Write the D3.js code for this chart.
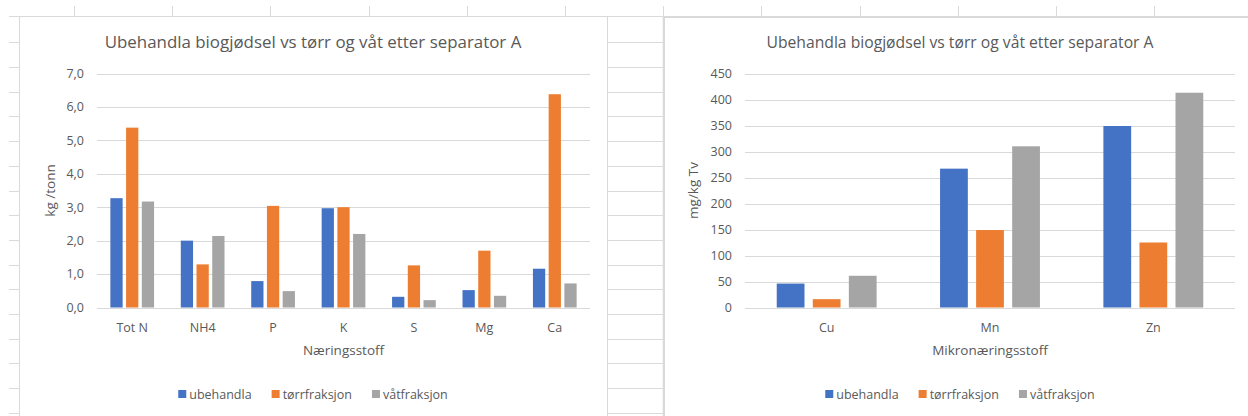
<!DOCTYPE html>
<html>
<head>
<meta charset="utf-8">
<script src="https://cdn.jsdelivr.net/npm/d3@7"></script>
<style>
  body { margin: 0; background: #fff; }
  svg { display: block; font-family: "Open Sans", sans-serif; }
</style>
</head>
<body>
<svg id="sheet" width="1248" height="416"></svg>
<script>
// data
var seriesNames = ["ubehandla", "tørrfraksjon", "våtfraksjon"];
var seriesColors = ["#4472C4", "#ED7D31", "#A5A5A5"];

var macroCats = ["Tot N", "NH4", "P", "K", "S", "Mg", "Ca"];
var macroUbehandla = [3.27, 2.0, 0.79, 2.97, 0.32, 0.52, 1.16];
var macroTorr = [5.38, 1.29, 3.04, 3.0, 1.26, 1.70, 6.38];
var macroVat = [3.17, 2.14, 0.49, 2.2, 0.22, 0.35, 0.72];
var macroTicks = [0, 1, 2, 3, 4, 5, 6, 7];

var microCats = ["Cu", "Mn", "Zn"];
var microUbehandla = [46, 267, 349];
var microTorr = [16, 149, 125];
var microVat = [61, 310, 413];
var microTicks = [0, 50, 100, 150, 200, 250, 300, 350, 400, 450];

var titleText = "Ubehandla biogjødsel vs tørr og våt etter separator A";

var svg = d3.select("#sheet");
var gridCol = "#dadada";

// spreadsheet background: header line, column ticks, row lines
svg.append("line").attr("x1", 9).attr("x2", 1248).attr("y1", 16.5).attr("y2", 16.5)
  .attr("stroke", gridCol);
d3.range(12).forEach(function(i){
  var x = Math.round(74 + 98.2 * i) + .5;
  svg.append("line").attr("x1", x).attr("x2", x).attr("y1", 6).attr("y2", 16)
    .attr("stroke", gridCol);
});
d3.range(16).forEach(function(i){
  var y = Math.round(42.3 + 24.7 * i) + .5;
  svg.append("line").attr("x1", 9).attr("x2", 19).attr("y1", y).attr("y2", y).attr("stroke", gridCol);
  svg.append("line").attr("x1", 607).attr("x2", 663).attr("y1", y).attr("y2", y).attr("stroke", gridCol);
});
svg.append("line").attr("x1", 663.5).attr("x2", 663.5).attr("y1", 16).attr("y2", 416)
  .attr("stroke", gridCol).attr("stroke-width", 1.5);

function drawChart(opt){
  var g = svg.append("g");
  // chart area
  g.append("rect")
    .attr("x", opt.box[0] + .5).attr("y", opt.box[1] + .5)
    .attr("width", opt.box[2] - opt.box[0]).attr("height", opt.box[3] - opt.box[1])
    .attr("fill", "#fff").attr("stroke", "#d9d9d9");
  var cx = (opt.box[0] + opt.box[2]) / 2;

  var x = d3.scaleBand().domain(opt.cats).range([opt.left, opt.right]);
  var xs = d3.scaleBand().domain(seriesNames).range([0, x.bandwidth()])
    .paddingInner(opt.padIn).paddingOuter(opt.padOut);
  var y = d3.scaleLinear().domain([0, opt.max]).range([307.5, 73.5]);

  // gridlines
  g.append("g").selectAll("line").data(opt.ticks).enter().append("line")
    .attr("x1", opt.left).attr("x2", opt.right)
    .attr("y1", function(d){ return Math.round(y(d)) + .5; })
    .attr("y2", function(d){ return Math.round(y(d)) + .5; })
    .attr("stroke", "#d9d9d9").attr("stroke-width", 1.2);

  // y tick labels
  g.append("g").selectAll("text").data(opt.ticks).enter().append("text")
    .attr("x", opt.left - 13).attr("y", function(d){ return y(d); })
    .attr("dy", ".35em").attr("text-anchor", "end")
    .attr("font-size", 12.5).attr("fill", "#595959")
    .text(opt.fmt);

  // bars
  var rows = opt.cats.map(function(c, i){
    return opt.values.map(function(v, s){ return {cat: c, s: seriesNames[s], v: v[i], color: seriesColors[s]}; });
  });
  g.append("g").selectAll("g").data(rows).enter().append("g")
    .attr("transform", function(d){ return "translate(" + x(d[0].cat) + ",0)"; })
    .selectAll("rect").data(function(d){ return d; }).enter().append("rect")
      .attr("x", function(d){ return xs(d.s); })
      .attr("width", xs.bandwidth())
      .attr("y", function(d){ return y(d.v); })
      .attr("height", function(d){ return y(0) - y(d.v); })
      .attr("fill", function(d){ return d.color; });

  // x labels
  g.append("g").selectAll("text").data(opt.cats).enter().append("text")
    .attr("x", function(d){ return x(d) + x.bandwidth() / 2; })
    .attr("y", 332).attr("text-anchor", "middle")
    .attr("font-size", 12.5).attr("fill", "#595959")
    .text(function(d){ return d; });

  // titles
  g.append("text").attr("x", cx).attr("y", 48).attr("text-anchor", "middle")
    .attr("font-size", opt.titleSize).attr("fill", "#595959").text(titleText);
  g.append("text").attr("x", (opt.left + opt.right) / 2).attr("y", 355)
    .attr("text-anchor", "middle").attr("font-size", 13.5).attr("fill", "#595959")
    .text(opt.xTitle);
  g.append("text")
    .attr("transform", "translate(" + opt.yTitleX + "," + y(opt.max / 2) + ") rotate(-90)")
    .attr("text-anchor", "middle").attr("dy", ".35em")
    .attr("font-size", 13.5).attr("fill", "#595959").text(opt.yTitle);

  // legend, centred on the chart area
  var leg = g.append("g");
  var items = leg.selectAll("g").data(seriesNames).enter().append("g");
  items.append("rect").attr("width", 8).attr("height", 8).attr("y", 390)
    .attr("fill", function(d, i){ return seriesColors[i]; });
  items.append("text").attr("x", 11).attr("y", 398.5)
    .attr("font-size", 12.5).attr("fill", "#595959").text(function(d){ return d; });
  var pos = 0;
  items.each(function(){
    var w = this.querySelector("text").getComputedTextLength();
    d3.select(this).attr("transform", "translate(" + pos + ",0)");
    pos += 11 + w + 20;
  });
  pos -= 20;
  leg.attr("transform", "translate(" + (cx - pos / 2) + ",0)");
}

drawChart({
  box: [19, 16, 607, 420], left: 97, right: 590,
  cats: macroCats, values: [macroUbehandla, macroTorr, macroVat],
  max: 7, ticks: macroTicks, padIn: 0.22, padOut: 0.85,
  fmt: function(d){ return d3.format(".1f")(d).replace(".", ","); },
  titleSize: 16.9, xTitle: "Næringsstoff", yTitle: "kg /tonn", yTitleX: 50
});

drawChart({
  box: [664, 17, 1256, 420], left: 745, right: 1235,
  cats: microCats, values: [microUbehandla, microTorr, microVat],
  max: 450, ticks: microTicks, padIn: 0.23, padOut: 0.88,
  fmt: function(d){ return d; },
  titleSize: 15.7, xTitle: "Mikronæringsstoff", yTitle: "mg/kg Tv", yTitleX: 693
});
</script>
</body>
</html>
